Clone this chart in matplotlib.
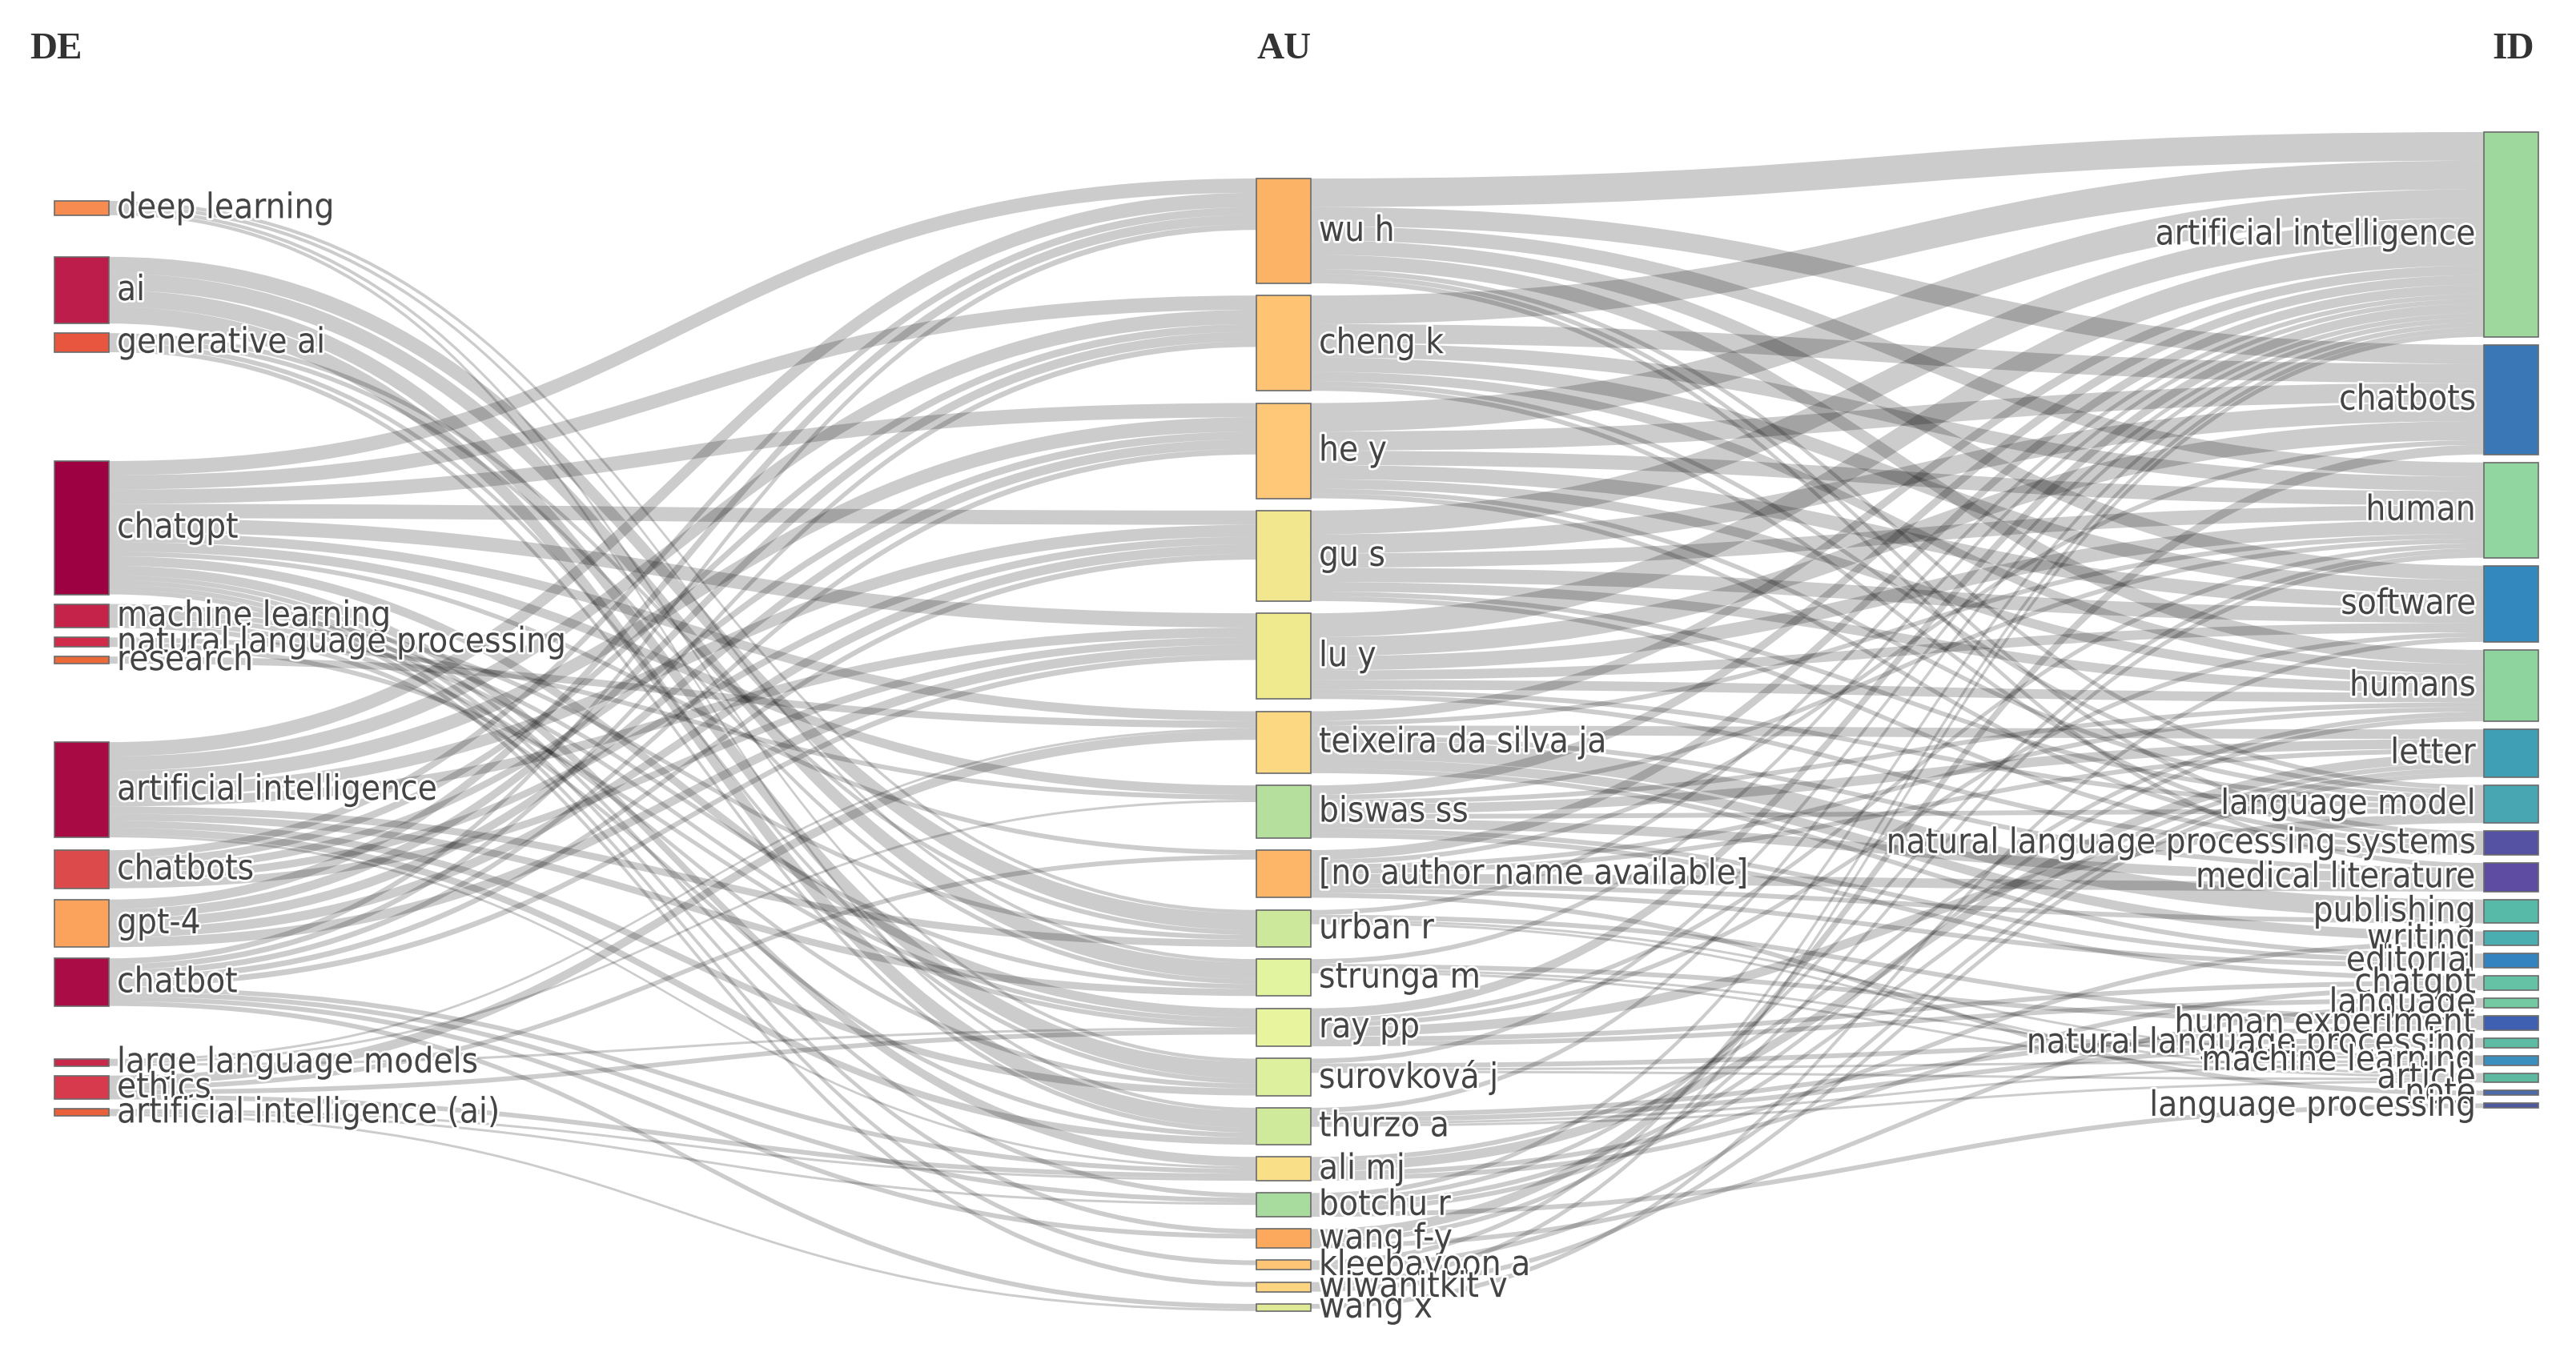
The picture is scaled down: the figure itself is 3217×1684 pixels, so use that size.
import matplotlib
matplotlib.use("Agg")
import matplotlib.pyplot as plt
from matplotlib.path import Path
from matplotlib.patches import PathPatch, Rectangle
import matplotlib.patheffects as pe

# колонки: ключевые слова авторов (DE), авторы (AU), keywords plus (ID)
de_labels = ["deep learning", "ai", "generative ai", "chatgpt", "machine learning",
             "natural language processing", "research", "artificial intelligence",
             "chatbots", "gpt-4", "chatbot", "large language models", "ethics",
             "artificial intelligence (ai)"]
au_labels = ["wu h", "cheng k", "he y", "gu s", "lu y", "teixeira da silva ja", "biswas ss",
             "[no author name available]", "urban r", "strunga m", "ray pp", "surovková j",
             "thurzo a", "ali mj", "botchu r", "wang f-y", "kleebayoon a", "wiwanitkit v", "wang x"]
id_labels = ["artificial intelligence", "chatbots", "human", "software", "humans", "letter",
             "language model", "natural language processing systems", "medical literature",
             "publishing", "writing", "editorial", "chatgpt", "language", "human experiment",
             "natural language processing", "machine learning", "article", "note",
             "language processing"]

# связи DE -> AU
de_au = [
    ("deep learning", "urban r", 0.375), ("deep learning", "strunga m", 0.375),
    ("deep learning", "surovková j", 0.375), ("deep learning", "thurzo a", 0.375),
    ("ai", "urban r", 1.75), ("ai", "strunga m", 1.75), ("ai", "surovková j", 1.75), ("ai", "thurzo a", 1.75),
    ("generative ai", "urban r", 0.5), ("generative ai", "strunga m", 0.5),
    ("generative ai", "surovková j", 0.5), ("generative ai", "thurzo a", 0.5),
    ("chatgpt", "wu h", 1.5), ("chatgpt", "cheng k", 1.5), ("chatgpt", "he y", 1.5),
    ("chatgpt", "gu s", 1.5), ("chatgpt", "lu y", 1.5), ("chatgpt", "teixeira da silva ja", 1.0),
    ("chatgpt", "biswas ss", 1.0), ("chatgpt", "[no author name available]", 0.5),
    ("chatgpt", "ray pp", 1.0), ("chatgpt", "ali mj", 1.0), ("chatgpt", "botchu r", 0.5),
    ("chatgpt", "wang f-y", 0.5), ("chatgpt", "kleebayoon a", 0.5), ("chatgpt", "wiwanitkit v", 0.5),
    ("machine learning", "urban r", 0.5), ("machine learning", "strunga m", 0.5),
    ("machine learning", "surovková j", 0.5), ("machine learning", "thurzo a", 0.5),
    ("machine learning", "ray pp", 0.5),
    ("natural language processing", "ray pp", 0.5), ("natural language processing", "biswas ss", 0.5),
    ("research", "teixeira da silva ja", 0.75),
    ("artificial intelligence", "wu h", 1.5), ("artificial intelligence", "cheng k", 1.5),
    ("artificial intelligence", "he y", 1.5), ("artificial intelligence", "gu s", 1.25),
    ("artificial intelligence", "lu y", 1.0), ("artificial intelligence", "urban r", 0.75),
    ("artificial intelligence", "strunga m", 0.75), ("artificial intelligence", "surovková j", 0.75),
    ("artificial intelligence", "thurzo a", 0.75), ("artificial intelligence", "ali mj", 0.25),
    ("chatbots", "wu h", 0.8), ("chatbots", "cheng k", 0.8), ("chatbots", "he y", 0.8),
    ("chatbots", "gu s", 0.8), ("chatbots", "lu y", 0.8),
    ("gpt-4", "wu h", 1.0), ("gpt-4", "cheng k", 1.0), ("gpt-4", "he y", 1.0),
    ("gpt-4", "gu s", 1.0), ("gpt-4", "lu y", 1.0),
    ("chatbot", "wu h", 0.6), ("chatbot", "cheng k", 0.6), ("chatbot", "he y", 0.6),
    ("chatbot", "gu s", 0.6), ("chatbot", "lu y", 0.6), ("chatbot", "wang f-y", 0.5),
    ("chatbot", "botchu r", 0.5), ("chatbot", "ali mj", 0.5), ("chatbot", "wang x", 0.5),
    ("large language models", "teixeira da silva ja", 0.25), ("large language models", "biswas ss", 0.25),
    ("large language models", "ray pp", 0.25),
    ("ethics", "teixeira da silva ja", 1.0), ("ethics", "[no author name available]", 0.5),
    ("ethics", "ali mj", 0.5), ("ethics", "ray pp", 0.5),
    ("artificial intelligence (ai)", "botchu r", 0.25), ("artificial intelligence (ai)", "ali mj", 0.25),
    ("artificial intelligence (ai)", "wang x", 0.25),
]

# связи AU -> ID
au_id = [
    ("wu h", "artificial intelligence", 3.0), ("wu h", "chatbots", 2.0), ("wu h", "human", 1.5),
    ("wu h", "software", 1.5), ("wu h", "humans", 1.5), ("wu h", "language model", 0.5),
    ("wu h", "natural language processing systems", 0.5), ("wu h", "medical literature", 0.5),
    ("cheng k", "artificial intelligence", 3.0), ("cheng k", "chatbots", 2.0), ("cheng k", "human", 1.5),
    ("cheng k", "software", 1.5), ("cheng k", "humans", 1.0), ("cheng k", "language model", 0.5),
    ("cheng k", "natural language processing systems", 0.5),
    ("he y", "artificial intelligence", 3.0), ("he y", "chatbots", 2.0), ("he y", "human", 1.5),
    ("he y", "software", 1.5), ("he y", "humans", 1.0), ("he y", "language model", 0.5),
    ("he y", "natural language processing systems", 0.5),
    ("gu s", "artificial intelligence", 2.5), ("gu s", "chatbots", 2.0), ("gu s", "human", 1.5),
    ("gu s", "software", 1.5), ("gu s", "humans", 1.0), ("gu s", "language model", 0.5),
    ("gu s", "natural language processing systems", 0.5),
    ("lu y", "artificial intelligence", 2.5), ("lu y", "chatbots", 2.0), ("lu y", "human", 1.5),
    ("lu y", "software", 1.0), ("lu y", "humans", 1.0), ("lu y", "language model", 0.5),
    ("lu y", "natural language processing systems", 0.5),
    ("teixeira da silva ja", "publishing", 2.0), ("teixeira da silva ja", "writing", 1.0),
    ("teixeira da silva ja", "artificial intelligence", 1.0), ("teixeira da silva ja", "letter", 1.0),
    ("teixeira da silva ja", "editorial", 0.5), ("teixeira da silva ja", "medical literature", 0.5),
    ("teixeira da silva ja", "human", 0.5),
    ("biswas ss", "artificial intelligence", 1.0), ("biswas ss", "letter", 1.0), ("biswas ss", "chatgpt", 0.5),
    ("biswas ss", "language model", 0.5), ("biswas ss", "medical literature", 1.0),
    ("biswas ss", "editorial", 0.5), ("biswas ss", "humans", 0.5), ("biswas ss", "human", 0.5),
    ("[no author name available]", "artificial intelligence", 1.0),
    ("[no author name available]", "letter", 0.5), ("[no author name available]", "medical literature", 1.0),
    ("[no author name available]", "humans", 0.5), ("[no author name available]", "publishing", 0.5),
    ("[no author name available]", "editorial", 0.5), ("[no author name available]", "chatbots", 0.5),
    ("[no author name available]", "note", 0.5),
    ("urban r", "artificial intelligence", 0.5), ("urban r", "human experiment", 0.5),
    ("urban r", "machine learning", 0.25), ("urban r", "article", 0.25),
    ("strunga m", "artificial intelligence", 0.5), ("strunga m", "human experiment", 0.5),
    ("strunga m", "machine learning", 0.25), ("strunga m", "article", 0.25),
    ("ray pp", "artificial intelligence", 1.0), ("ray pp", "language model", 1.0), ("ray pp", "chatgpt", 0.5),
    ("ray pp", "language", 0.5), ("ray pp", "software", 0.5), ("ray pp", "human", 0.5),
    ("surovková j", "artificial intelligence", 0.5), ("surovková j", "natural language processing", 0.5),
    ("surovková j", "machine learning", 0.25), ("surovková j", "article", 0.25),
    ("thurzo a", "artificial intelligence", 0.5), ("thurzo a", "human experiment", 0.5),
    ("thurzo a", "machine learning", 0.25), ("thurzo a", "article", 0.25),
    ("thurzo a", "natural language processing", 0.5),
    ("ali mj", "letter", 1.0), ("ali mj", "chatgpt", 0.5), ("ali mj", "writing", 0.5), ("ali mj", "humans", 0.5),
    ("botchu r", "letter", 0.5), ("botchu r", "artificial intelligence", 0.5), ("botchu r", "human", 0.5),
    ("botchu r", "humans", 0.5), ("botchu r", "language processing", 0.5),
    ("wang f-y", "chatbots", 1.0), ("wang f-y", "language", 0.5), ("wang f-y", "human", 0.5),
    ("kleebayoon a", "letter", 0.5), ("kleebayoon a", "artificial intelligence", 0.5),
    ("wiwanitkit v", "letter", 0.5), ("wiwanitkit v", "artificial intelligence", 0.5),
    ("wang x", "software", 0.5),
]

column_titles = ["DE", "AU", "ID"]

# стиль
de_colors = ["#f88b4f", "#bd1d4a", "#e8563f", "#9e0142", "#c5234a", "#d02b48", "#ec6a3a",
             "#a80a44", "#dc4a4c", "#fba35c", "#aa0c45", "#c8284a", "#d83a4d", "#e8613a"]
au_colors = ["#fdb365", "#fec373", "#fec878", "#f2e78f", "#f0ea8e", "#fdd882", "#b4df9c",
             "#fdb567", "#cbe89b", "#e3f4a0", "#e8f49e", "#dcf09d", "#cfea9b", "#f9df88",
             "#a8dc9e", "#fca95e", "#fdc575", "#fdd47f", "#dfe996"]
id_colors = ["#9fd89c", "#3a77b7", "#91d5a0", "#3389bd", "#8ed49e", "#3e9fb5", "#48a6b3",
             "#5652a3", "#5d4ca2", "#57b9a8", "#4aaeb0", "#3283c0", "#66c2a5", "#72c9a2",
             "#3f5fb0", "#5cbba2", "#3a8fbf", "#5db9a0", "#4a6aa9", "#4c59a0"]

# раскладка (в пикселях итоговой картинки)
W, H = 3217, 1684
ky = 11.9
node_w = 68
col_x = [68, 1569, 3102]
col_top = [251, 223, 165]
col_pad = [12, 15.3, 10]
de_extra_gap = [0, 40, 0, 124, 0, 0, 0, 86, 4, 2, 2, 54, 0, 0]

columns = [de_labels, au_labels, id_labels]
colors = [de_colors, au_colors, id_colors]
links = [(0, s, 1, t, v) for s, t, v in de_au] + [(1, s, 2, t, v) for s, t, v in au_id]

# размеры узлов
in_sum, out_sum = {}, {}
for c1, s, c2, t, v in links:
    out_sum[(c1, s)] = out_sum.get((c1, s), 0) + v
    in_sum[(c2, t)] = in_sum.get((c2, t), 0) + v

y0 = {}
size = {}
for c, names in enumerate(columns):
    y = col_top[c]
    for i, n in enumerate(names):
        if c == 0:
            y += de_extra_gap[i]
        h = max(in_sum.get((c, n), 0), out_sum.get((c, n), 0)) * ky
        y0[(c, n)] = y
        size[(c, n)] = h
        y += h + col_pad[c]

# смещения связей внутри узлов
src_off, tgt_off = {}, {}
for key in y0:
    outs = [i for i, l in enumerate(links) if (l[0], l[1]) == key]
    outs.sort(key=lambda i: y0[(links[i][2], links[i][3])])
    off = y0[key]
    for i in outs:
        src_off[i] = off
        off += links[i][4] * ky
    ins = [i for i, l in enumerate(links) if (l[2], l[3]) == key]
    ins.sort(key=lambda i: y0[(links[i][0], links[i][1])])
    off = y0[key]
    for i in ins:
        tgt_off[i] = off
        off += links[i][4] * ky

fig = plt.figure(figsize=(W / 100, H / 100), dpi=100)
ax = fig.add_axes([0, 0, 1, 1])
ax.set_xlim(0, W)
ax.set_ylim(H, 0)
ax.axis("off")

# связи
for i, (c1, s, c2, t, v) in enumerate(links):
    xa = col_x[c1] + node_w
    xb = col_x[c2]
    xm = (xa + xb) / 2
    sa, ta = src_off[i], tgt_off[i]
    d = v * ky
    verts = [(xa, sa), (xm, sa), (xm, ta), (xb, ta), (xb, ta + d),
             (xm, ta + d), (xm, sa + d), (xa, sa + d), (xa, sa)]
    codes = [Path.MOVETO, Path.CURVE4, Path.CURVE4, Path.CURVE4, Path.LINETO,
             Path.CURVE4, Path.CURVE4, Path.CURVE4, Path.CLOSEPOLY]
    ax.add_patch(PathPatch(Path(verts, codes), facecolor=(0, 0, 0, 0.2), edgecolor="none", zorder=1))

# узлы и подписи
halo = [pe.withStroke(linewidth=4, foreground="white")]
for c, names in enumerate(columns):
    for i, n in enumerate(names):
        ax.add_patch(Rectangle((col_x[c], y0[(c, n)]), node_w, size[(c, n)],
                               facecolor=colors[c][i], edgecolor="#6b6b6b", linewidth=1.2, zorder=2))
        yc = y0[(c, n)] + size[(c, n)] / 2
        if c < 2:
            ax.text(col_x[c] + node_w + 10, yc, n, ha="left", va="center", fontsize=31.5,
                    family="DejaVu Sans", stretch="condensed", color="#444444",
                    path_effects=halo, zorder=3)
        else:
            ax.text(col_x[c] - 10, yc, n, ha="right", va="center", fontsize=31.5,
                    family="DejaVu Sans", stretch="condensed", color="#444444",
                    path_effects=halo, zorder=3)

# заголовки колонок
ax.text(37, 62, column_titles[0], ha="left", va="center", fontsize=34, fontweight="bold",
        family="Liberation Serif", color="#333333")
ax.text(1570, 62, column_titles[1], ha="left", va="center", fontsize=34, fontweight="bold",
        family="Liberation Serif", color="#333333")
ax.text(3165, 62, column_titles[2], ha="right", va="center", fontsize=34, fontweight="bold",
        family="Liberation Serif", color="#333333")

fig.savefig("out.png", dpi=100, facecolor="white")
